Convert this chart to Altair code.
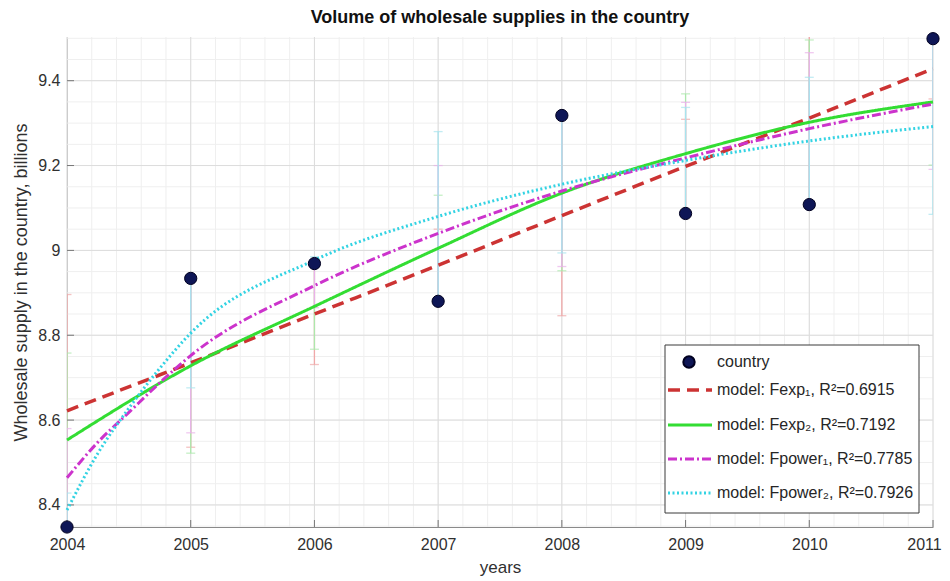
import altair as alt
import pandas as pd

# ---------------- data ----------------
years = [2004, 2005, 2006, 2007, 2008, 2009, 2010, 2011]
country = [8.348, 8.934, 8.969, 8.880, 9.318, 9.087, 9.108, 9.499]

# model curves
fexp1 = [8.622, 8.735, 8.850, 8.965, 9.082, 9.198, 9.312, 9.428]
fexp2 = [8.553, 8.728, 8.868, 9.005, 9.135, 9.228, 9.302, 9.350]
fine_years = [2004, 2004.25, 2004.5, 2004.75, 2005, 2006, 2007, 2008, 2009, 2010, 2011]
fpower1 = [8.464, 8.548, 8.618, 8.688, 8.752, 8.917, 9.040, 9.140, 9.218, 9.287, 9.345]
fpower2 = [8.388, 8.522, 8.628, 8.722, 8.805, 8.977, 9.080, 9.156, 9.212, 9.258, 9.292]

model_names = ["Fexp1", "Fexp2", "Fpower1", "Fpower2"]
legend_labels = [
    "country",
    "model: Fexp\u2081, R\u00b2=0.6915",
    "model: Fexp\u2082, R\u00b2=0.7192",
    "model: Fpower\u2081, R\u00b2=0.7785",
    "model: Fpower\u2082, R\u00b2=0.7926",
]
y_tick_values = [8.4, 8.6, 8.8, 9.0, 9.2, 9.4]

# ---------------- styling ----------------
W, H = 866, 490
FONT = "Liberation Sans"
line_colors = ["#cc3333", "#33dd33", "#cc33cc", "#33d3e3"]
bar_colors = ["#f0a8a8", "#ace8ac", "#eab0ea", "#a8e4ee"]
dashes = [[12, 7], [1, 0], [9, 3, 2, 3], [2, 2.5]]
widths = [3.5, 3.0, 3.0, 3.0]
point_fill = "#0e1656"

xs = alt.Scale(domain=[2004, 2011], nice=False, zero=False)
ys = alt.Scale(domain=[8.348, 9.503], nice=False, zero=False)

x_axis = alt.Axis(values=years, format="d", grid=False, ticks=False, labelFlush=False,
                  labelOffset={"condition": {"test": "datum.value == 2011", "value": -9},
                               "value": 0},
                  labelFont=FONT, labelFontSize=16, labelColor="#303030",
                  labelPadding=9, domainColor="#8a8a8a",
                  titleFont=FONT, titleFontSize=17, titleFontWeight="normal",
                  titleColor="#303030", titlePadding=7)
y_axis = alt.Axis(values=y_tick_values, format=".1~f", grid=False, ticks=False,
                  labelFlush=False,
                  labelFont=FONT, labelFontSize=16, labelColor="#303030",
                  labelPadding=7, domainColor="#8a8a8a",
                  titleFont=FONT, titleFontSize=18, titleFontWeight="normal",
                  titleColor="#303030", titlePadding=7)


def X(field="x"):
    return alt.X(f"{field}:Q", scale=xs, axis=x_axis, title="years")


def Y(field="y"):
    return alt.Y(f"{field}:Q", scale=ys, axis=y_axis,
                 title="Wholesale supply in the country, billions")


# ---------------- tables ----------------
minor_x = pd.DataFrame({"x": [2004 + i * 0.2 for i in range(36)]})
minor_y = pd.DataFrame({"y": [8.35 + i * 0.05 for i in range(24)]})
major_x = pd.DataFrame({"x": years})
major_y = pd.DataFrame({"y": y_tick_values})

curves = [
    pd.DataFrame({"x": years, "y": fexp1}),
    pd.DataFrame({"x": years, "y": fexp2}),
    pd.DataFrame({"x": fine_years, "y": fpower1}),
    pd.DataFrame({"x": fine_years, "y": fpower2}),
]

pts = pd.DataFrame({"x": years, "y": country})

layers = []
layers.append(alt.Chart(minor_x).mark_rule(color="#efefef", strokeWidth=1).encode(x=X()))
layers.append(alt.Chart(minor_y).mark_rule(color="#efefef", strokeWidth=1).encode(y=Y()))
layers.append(alt.Chart(major_x).mark_rule(color="#dcdcdc", strokeWidth=1).encode(x=X()))
layers.append(alt.Chart(major_y).mark_rule(color="#dcdcdc", strokeWidth=1).encode(y=Y()))

# error bars: from data point to the mirrored position around each model value
for i, cdf in enumerate(curves):
    mv = dict(zip(cdf["x"], cdf["y"]))
    eb = pd.DataFrame({
        "x": years,
        "y": country,
        "y2": [2 * mv[yr] - c for yr, c in zip(years, country)],
    })
    layers.append(alt.Chart(eb).mark_rule(color=bar_colors[i], strokeWidth=1.3, clip=True)
                  .encode(x=X(), y=Y(), y2="y2:Q"))
    layers.append(alt.Chart(eb).mark_tick(color=bar_colors[i], orient="horizontal",
                                          size=9, thickness=1.3, clip=True)
                  .encode(x=X(), y=Y("y2")))

# inward ticks
layers.append(alt.Chart(major_y).mark_rule(color="#777777", strokeWidth=1)
              .encode(y=Y(), x=alt.value(0), x2=alt.value(7)))
layers.append(alt.Chart(major_x).mark_rule(color="#777777", strokeWidth=1)
              .encode(x=X(), y=alt.value(H), y2=alt.value(H - 7)))

# model curves
for i, cdf in enumerate(curves):
    layers.append(alt.Chart(cdf).mark_line(color=line_colors[i], strokeWidth=widths[i],
                                           strokeDash=dashes[i], interpolate="monotone")
                  .encode(x=X(), y=Y()))

# data points
layers.append(alt.Chart(pts).mark_point(filled=True, shape="circle", size=150,
                                        fill=point_fill, stroke="#000020",
                                        strokeWidth=1, opacity=1)
              .encode(x=X(), y=Y()))

# ---------------- legend (drawn inside the plot, bottom right) ----------------
one = pd.DataFrame({"a": [0]})
LX0, LX1, LY0, LY1 = 598, 852, 308, 476
rows = [325, 353, 388, 422, 456]
layers.append(alt.Chart(one).mark_rect(fill="white", stroke="#3a3a3a", strokeWidth=1)
              .encode(x=alt.value(LX0), x2=alt.value(LX1),
                      y=alt.value(LY0), y2=alt.value(LY1)))
layers.append(alt.Chart(one).mark_point(filled=True, shape="circle", size=130,
                                        fill=point_fill, stroke="#000020", opacity=1)
              .encode(x=alt.value(622), y=alt.value(rows[0])))
for i in range(4):
    layers.append(alt.Chart(one).mark_rule(color=line_colors[i], strokeWidth=widths[i],
                                           strokeDash=dashes[i])
                  .encode(x=alt.value(601), x2=alt.value(645), y=alt.value(rows[i + 1])))
for i, lab in enumerate(legend_labels):
    layers.append(alt.Chart(pd.DataFrame({"t": [lab]})).mark_text(
        align="left", baseline="middle", font=FONT, fontSize=16, color="#262626")
        .encode(text="t:N", x=alt.value(650), y=alt.value(rows[i])))

chart = alt.layer(*layers).properties(
    width=W, height=H,
    title=alt.TitleParams("Volume of wholesale supplies in the country",
                          font=FONT, fontSize=18, fontWeight="bold", color="#111111",
                          anchor="middle", frame="group", offset=4),
    autosize=alt.AutoSizeParams(type="none"),
    padding={"left": 59, "top": 29, "right": 9, "bottom": 52},
    background="white",
).configure_view(stroke=None)

chart.save("out.html", embed_options={"renderer": "svg", "actions": False})
